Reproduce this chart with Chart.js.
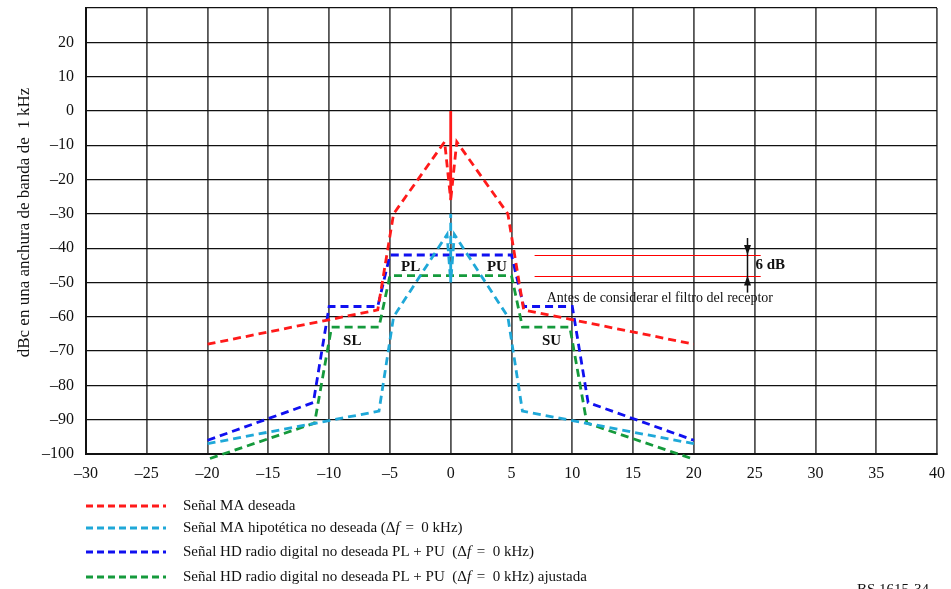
<!DOCTYPE html>
<html>
<head>
<meta charset="utf-8">
<script src="https://cdn.jsdelivr.net/npm/chart.js@4/dist/chart.umd.min.js"></script>
<style>
  html, body { margin: 0; background: #fff; }
  #wrap { width: 951px; height: 589px; }
</style>
</head>
<body>
<div id="wrap"><canvas id="spectrumChart" width="951" height="589"></canvas></div>
<script>
// ---------- datos ----------
const xTicks = [-30, -25, -20, -15, -10, -5, 0, 5, 10, 15, 20, 25, 30, 35, 40];
const yTicks = [-100, -90, -80, -70, -60, -50, -40, -30, -20, -10, 0, 10, 20, 30];

// Señal MA deseada
const maDeseadaX = [-20, -6, -4.7, -0.5, 0, 0, 0, 0.5, 4.7, 6, 20];
const maDeseadaY = [-68, -58, -30, -9, -26, 0, -26, -9, -30, -58, -68];

// Señal MA hipotética no deseada
const maHipoX = [-20, -5.9, -4.7, -0.3, 0, 0, 0, 0.3, 4.7, 5.9, 20];
const maHipoY = [-97, -87.5, -60, -36, -50, -30, -50, -36, -60, -87.5, -97];

// Señal HD radio digital PL + PU
const hdX = [-20, -11.3, -10, -6, -5, 5, 6, 10, 11.3, 20];
const hdY = [-96, -85, -57, -57, -42, -42, -57, -57, -85, -96];

// Señal HD radio digital PL + PU ajustada
const hdAjX = [-19.8, -11.2, -9.8, -5.9, -5, 5, 5.9, 9.8, 11.2, 19.8];
const hdAjY = [-101.3, -91, -63, -63, -48, -48, -63, -63, -91, -101.3];

const legendLabels = [
  ['Señal MA deseada'],
  ['Señal MA hipotética no deseada (Δ', 'f', ' =  0 kHz)'],
  ['Señal HD radio digital no deseada PL + PU  (Δ', 'f', ' =  0 kHz)'],
  ['Señal HD radio digital no deseada PL + PU  (Δ', 'f', ' =  0 kHz) ajustada']
];
const colores = ['#ff1a1a', '#1fa8d8', '#1010f0', '#159a3c'];

// etiquetas dentro del gráfico [texto, x, y]
const bandLabels = [['PL', -3.3, -45.5], ['PU', 3.8, -45.5], ['SL', -8.1, -67], ['SU', 8.3, -67]];
const refLevels = [-42, -48];          // líneas rojas de referencia
const refRange = [6.9, 25.5];
const arrowX = 24.4;

const pares = (xs, ys) => xs.map((x, i) => ({ x: x, y: ys[i] }));
const serif = "'Liberation Serif', 'Times New Roman', serif";

Chart.defaults.font.family = serif;
Chart.defaults.font.size = 15;
Chart.defaults.color = '#111';

function serie(datos, color) {
    return {
        data: datos,
        showLine: true,
        borderColor: color,
        backgroundColor: color,
        borderWidth: 2.8,
        borderDash: [8, 5],
        pointRadius: 0,
        fill: false,
        tension: 0,
        clip: false
    };
}

const extrasPlugin = {
    id: 'extras',
    afterDatasetsDraw(chart) {
        const ctx = chart.ctx;
        const xs = chart.scales.x, ys = chart.scales.y;
        ctx.save();
        // PL / PU / SL / SU
        ctx.font = 'bold 15px ' + serif;
        ctx.fillStyle = '#111';
        ctx.textAlign = 'center';
        ctx.textBaseline = 'middle';
        bandLabels.forEach(([t, x, y]) => ctx.fillText(t, xs.getPixelForValue(x), ys.getPixelForValue(y)));

        // líneas rojas 6 dB
        ctx.strokeStyle = '#ff0000';
        ctx.lineWidth = 1.2;
        refLevels.forEach(v => {
            const py = Math.round(ys.getPixelForValue(v)) + 0.5;
            ctx.beginPath();
            ctx.moveTo(xs.getPixelForValue(refRange[0]), py);
            ctx.lineTo(xs.getPixelForValue(refRange[1]), py);
            ctx.stroke();
        });
        // flechas
        const ax = Math.round(xs.getPixelForValue(arrowX)) + 0.5;
        const yTop = ys.getPixelForValue(refLevels[0]);
        const yBot = ys.getPixelForValue(refLevels[1]);
        ctx.strokeStyle = '#111';
        ctx.lineWidth = 1.5;
        ctx.beginPath();
        ctx.moveTo(ax, yTop - 17);
        ctx.lineTo(ax, yBot + 17);
        ctx.stroke();
        ctx.fillStyle = '#111';
        ctx.beginPath();
        ctx.moveTo(ax, yTop); ctx.lineTo(ax - 3.5, yTop - 10); ctx.lineTo(ax + 3.5, yTop - 10);
        ctx.closePath(); ctx.fill();
        ctx.beginPath();
        ctx.moveTo(ax, yBot); ctx.lineTo(ax - 3.5, yBot + 10); ctx.lineTo(ax + 3.5, yBot + 10);
        ctx.closePath(); ctx.fill();
        ctx.font = 'bold 15px ' + serif;
        ctx.textAlign = 'left';
        ctx.fillText('6 dB', ax + 8, (yTop + yBot) / 2);

        ctx.font = '14px ' + serif;
        ctx.fillText('Antes de considerar el filtro del receptor', xs.getPixelForValue(7.9), ys.getPixelForValue(-54.6));
        ctx.restore();
    },
    afterDraw(chart) {
        const ctx = chart.ctx;
        const left = chart.chartArea.left;
        ctx.save();
        const filas = [506, 528, 552, 577];
        legendLabels.forEach((partes, i) => {
            const y = filas[i];
            ctx.strokeStyle = colores[i];
            ctx.lineWidth = 2.8;
            ctx.setLineDash([7, 4]);
            ctx.beginPath();
            ctx.moveTo(left, y);
            ctx.lineTo(left + 80, y);
            ctx.stroke();
            ctx.setLineDash([]);
            let x = left + 97;
            ctx.fillStyle = '#111';
            ctx.textBaseline = 'middle';
            partes.forEach((p, j) => {
                ctx.font = (j === 1 ? 'italic ' : '') + '15px ' + serif;
                ctx.fillText(p, x, y);
                x += ctx.measureText(p).width + (j === 1 ? 2 : 0);
            });
        });
        ctx.font = '15px ' + serif;
        ctx.textBaseline = 'alphabetic';
        ctx.fillText('BS.1615-34', 857, 594);
        ctx.restore();
    }
};

const chart = new Chart(document.getElementById('spectrumChart'), {
    type: 'scatter',
    data: {
        datasets: [
            serie(pares(maDeseadaX, maDeseadaY), colores[0]),
            serie(pares(maHipoX, maHipoY), colores[1]),
            serie(pares(hdX, hdY), colores[2]),
            serie(pares(hdAjX, hdAjY), colores[3])
        ]
    },
    options: {
        responsive: false,
        animation: false,
        devicePixelRatio: 1,
        layout: { padding: { left: 0, right: 14, top: 8, bottom: 0 } },
        plugins: { legend: { display: false }, tooltip: { enabled: false } },
        scales: {
            x: {
                type: 'linear',
                min: -30, max: 40,
                afterBuildTicks: s => { s.ticks = xTicks.map(v => ({ value: v })); },
                afterFit: s => { s.height = 135; s.paddingLeft = 0; s.paddingRight = 0; },
                ticks: {
                    padding: 10,
                    maxRotation: 0,
                    font: { size: 16 },
                    callback: v => String(v).replace('-', '\u2013')
                },
                grid: { color: '#555', lineWidth: 1.8, drawTicks: false },
                border: { color: '#111', width: 2 }
            },
            y: {
                type: 'linear',
                min: -100, max: 30,
                afterBuildTicks: s => { s.ticks = yTicks.map(v => ({ value: v })); },
                afterFit: s => { s.width = 86; s.paddingTop = 0; s.paddingBottom = 0; },
                ticks: {
                    padding: 12,
                    font: { size: 16 },
                    callback: v => v === 30 ? '' : String(v).replace('-', '\u2013')
                },
                grid: { color: '#111', lineWidth: 1.3, drawTicks: false },
                border: { color: '#111', width: 2 },
                title: {
                    display: true,
                    text: '\u00a0\u00a0\u00a0\u00a0dBc en una anchura de banda de  1 kHz',
                    font: { size: 17 },
                    padding: { top: 14, bottom: 0 }
                }
            }
        }
    },
    plugins: [extrasPlugin]
});
</script>
</body>
</html>
